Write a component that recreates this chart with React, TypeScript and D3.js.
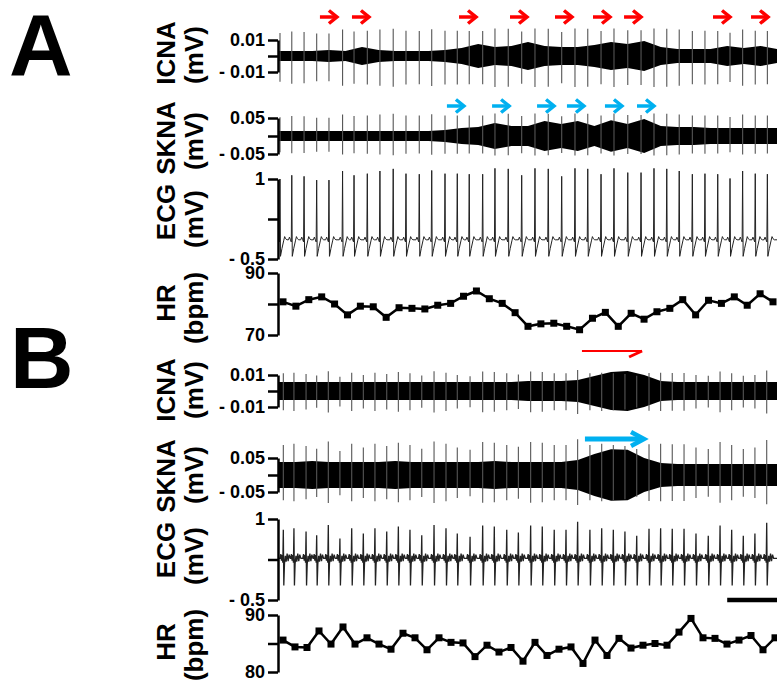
import React, { useEffect, useRef } from 'react'
import * as d3 from 'd3'

// every trace runs 30 s
const traceSpan = [0, 30]
const envTimes = [0, 1, 2, 3, 4, 5, 6, 7, 8, 9, 10, 11, 12, 13, 14, 15, 16, 17, 18, 19, 20, 21, 22, 23, 24, 25, 26, 27, 28, 29, 30]

// panel A
const beatsA = [0.06, 0.77, 1.51, 2.27, 3.01, 3.83, 4.52, 5.32, 6.08, 6.88, 7.65, 8.45, 9.2, 10.0, 10.74, 11.46, 12.27, 13.01, 13.81, 14.62, 15.42, 16.22, 17.03, 17.83, 18.6, 19.4, 20.18, 21.01, 21.81, 22.59, 23.36, 24.11, 24.9, 25.66, 26.43, 27.17, 27.93, 28.69, 29.42]
const rPeakA = [1.0, 1.07, 1.05, 0.98, 0.98, 1.15, 1.07, 1.1, 1.15, 1.19, 1.1, 1.09, 1.16, 1.1, 1.1, 1.09, 1.09, 1.2, 1.19, 1.07, 1.2, 1.19, 1.05, 1.2, 1.19, 1.09, 1.2, 1.12, 1.12, 1.2, 1.19, 1.15, 1.09, 1.1, 1.09, 1.01, 1.15, 1.1, 1.09]
const hrA = [80.7, 79.3, 81.4, 82.3, 80, 76.5, 79.3, 79.1, 75.7, 78.8, 78.6, 78.4, 79.6, 80.2, 82.5, 84.2, 81.7, 80.2, 77.2, 72.8, 73.6, 73.8, 72.8, 71.7, 75.4, 77.3, 72.8, 77, 75.1, 77.5, 78.6, 81.4, 76.5, 81.2, 80.2, 82.3, 79.6, 83.3, 80.7]
const icnaEnvA = [0.0031, 0.0031, 0.0031, 0.0038, 0.0031, 0.0056, 0.0038, 0.0031, 0.0031, 0.0031, 0.0038, 0.005, 0.0075, 0.0056, 0.0063, 0.0088, 0.0063, 0.0056, 0.0056, 0.0069, 0.0088, 0.0075, 0.0094, 0.0056, 0.0044, 0.0044, 0.0044, 0.0063, 0.005, 0.0063, 0.0044]
const sknaEnvA = [0.014, 0.014, 0.014, 0.014, 0.014, 0.014, 0.014, 0.014, 0.014, 0.014, 0.017, 0.022, 0.025, 0.036, 0.028, 0.028, 0.042, 0.033, 0.042, 0.028, 0.044, 0.033, 0.047, 0.028, 0.025, 0.025, 0.022, 0.022, 0.022, 0.022, 0.022]
const redArrowsA = [3.55, 5.48, 11.93, 15.0, 17.71, 20.0, 21.87, 27.23, 29.52]
const blueArrowsA = [11.2, 13.92, 16.63, 18.43, 20.72, 22.65]

// panel B
const beatsB = [0.26, 0.9, 1.63, 2.27, 2.97, 3.67, 4.38, 5.08, 5.78, 6.49, 7.19, 7.89, 8.6, 9.34, 10.06, 10.74, 11.51, 12.27, 12.97, 13.72, 14.42, 15.16, 15.86, 16.58, 17.29, 17.99, 18.73, 19.44, 20.14, 20.84, 21.55, 22.29, 22.99, 23.69, 24.4, 25.12, 25.86, 26.57, 27.27, 27.97, 28.67, 29.38]
const rPeakB = [0.8, 0.83, 0.77, 0.7, 0.89, 0.64, 0.83, 0.73, 0.83, 0.77, 0.86, 0.8, 0.7, 0.89, 0.83, 0.73, 0.67, 0.88, 0.86, 0.8, 0.75, 0.88, 0.86, 0.8, 0.8, 0.95, 0.8, 0.83, 0.8, 0.77, 0.69, 0.82, 0.83, 0.82, 0.82, 0.73, 0.69, 0.88, 0.8, 0.69, 0.73, 0.93]
const hrB = [85.6, 84.4, 84.3, 87.2, 84.9, 87.9, 84.9, 86, 84.9, 84, 86.8, 86, 83.9, 86, 85.2, 85.1, 82.7, 84.7, 83.5, 84.3, 81.9, 85.2, 82.9, 84, 84.4, 81.5, 85.6, 82.9, 85.9, 84.2, 84.7, 85, 84.7, 87, 89.4, 86, 85.9, 84.9, 85.6, 86.4, 83.9, 86]
const icnaEnvB = [0.0056, 0.0056, 0.0056, 0.0056, 0.0056, 0.0056, 0.0056, 0.0056, 0.0056, 0.0056, 0.0056, 0.0056, 0.0056, 0.0056, 0.0056, 0.0063, 0.0063, 0.0063, 0.0069, 0.0094, 0.0119, 0.0125, 0.01, 0.0063, 0.0056, 0.0056, 0.0056, 0.0056, 0.0056, 0.0056, 0.0056]
const sknaEnvB = [0.038, 0.038, 0.041, 0.038, 0.038, 0.038, 0.038, 0.041, 0.038, 0.038, 0.038, 0.038, 0.038, 0.041, 0.038, 0.038, 0.038, 0.038, 0.044, 0.062, 0.076, 0.074, 0.05, 0.035, 0.032, 0.032, 0.032, 0.032, 0.032, 0.032, 0.032]
const redArrowB = [18.25, 21.87]
const blueArrowB = [18.43, 22.05]
const scaleBar = [27, 30]

// one beat of the ECG: [seconds from R, mV from baseline]; R itself comes from rPeak
const beatShapeA = [[-0.2, 0], [-0.14, 0.05], [-0.08, 0], [-0.03, -0.04], [0, null], [0.03, -0.31], [0.12, -0.16], [0.22, -0.02], [0.28, 0.06], [0.34, 0.02], [0.42, 0]]
const beatShapeB = [[-0.2, 0], [-0.15, 0.08], [-0.11, -0.04], [-0.07, 0.06], [-0.03, -0.08], [0, null], [0.03, -0.5], [0.07, -0.1], [0.12, 0.05], [0.17, -0.06], [0.23, 0.09], [0.29, -0.05], [0.35, 0.07], [0.42, 0]]
const baselineA = -0.14
const baselineB = 0.27

const FONT = 'Liberation Sans, Arial, sans-serif'
const AX = 278

const App = () => {
  const svgRef = useRef(null)

  useEffect(() => {
    if (!svgRef.current) return
    const svg = d3.select(svgRef.current)
    svg.selectAll('*').remove()

    const x = d3.scaleLinear().domain(traceSpan).range([279, 777])

    const drawAxis = (y, ticks, labels) => {
      const axis = d3
        .axisLeft(y)
        .tickValues(ticks)
        .tickSize(10)
        .tickSizeOuter(0)
        .tickPadding(3)
        .tickFormat((d, i) => labels[i])
      svg
        .append('g')
        .attr('transform', `translate(${AX},0)`)
        .call(axis)
        .call((g) => g.selectAll('path, line').attr('stroke', '#000').attr('stroke-width', 2.5))
        .call((g) =>
          g
            .selectAll('text')
            .attr('fill', '#000')
            .attr('font-size', 18)
            .attr('font-weight', 'bold')
            .attr('font-family', FONT)
        )
    }

    const title = (text, bx, cy) => {
      svg
        .append('text')
        .attr('transform', `translate(${bx},${cy}) rotate(-90)`)
        .attr('text-anchor', 'middle')
        .attr('font-family', FONT)
        .attr('font-weight', 'bold')
        .attr('font-size', 26)
        .text(text)
    }

    const drawNerve = (y, env, beats, rPeaks, up, down) => {
      const area = d3
        .area()
        .x((d, i) => x(envTimes[i]))
        .y0((d) => y(-d))
        .y1((d) => y(d))
      svg.append('path').datum(env).attr('d', area).attr('fill', '#000')
      const meanR = d3.mean(rPeaks)
      svg
        .append('g')
        .selectAll('line')
        .data(beats)
        .join('line')
        .attr('x1', (d) => x(d))
        .attr('x2', (d) => x(d))
        .attr('y1', (d, i) => y((up * rPeaks[i]) / meanR))
        .attr('y2', (d, i) => y((-down * rPeaks[i]) / meanR))
        .attr('stroke', '#555')
        .attr('stroke-width', 1.1)
    }

    const drawEcg = (y, beats, rPeaks, baseline, shape, width) => {
      const pts = [[traceSpan[0], baseline]]
      beats.forEach((b, i) => {
        shape.forEach(([dt, dv]) => {
          pts.push([b + dt, dv === null ? rPeaks[i] : baseline + dv])
        })
      })
      pts.push([traceSpan[1], baseline])
      const clean = pts
        .filter((p) => p[0] >= traceSpan[0] && p[0] <= traceSpan[1])
        .sort((a, b) => a[0] - b[0])
      const line = d3
        .line()
        .x((d) => x(d[0]))
        .y((d) => y(d[1]))
      svg
        .append('path')
        .datum(clean)
        .attr('d', line)
        .attr('fill', 'none')
        .attr('stroke', '#222')
        .attr('stroke-width', width)
    }

    const drawHr = (y, hr, range) => {
      const xi = d3.scalePoint().domain(d3.range(hr.length)).range(range)
      const line = d3
        .line()
        .x((d, i) => xi(i))
        .y((d) => y(d))
      svg
        .append('path')
        .datum(hr)
        .attr('d', line)
        .attr('fill', 'none')
        .attr('stroke', '#000')
        .attr('stroke-width', 2.5)
      svg
        .append('g')
        .selectAll('rect')
        .data(hr)
        .join('rect')
        .attr('x', (d, i) => xi(i) - 3.5)
        .attr('y', (d) => y(d) - 3.5)
        .attr('width', 7)
        .attr('height', 7)
        .attr('fill', '#000')
    }

    const smallArrows = (tips, yy, color) => {
      tips.forEach((t) => {
        const tx = x(t)
        svg
          .append('line')
          .attr('x1', tx - 18)
          .attr('x2', tx - 3)
          .attr('y1', yy)
          .attr('y2', yy)
          .attr('stroke', color)
          .attr('stroke-width', 3.5)
        svg
          .append('polyline')
          .attr('points', `${tx - 9},${yy - 6.5} ${tx - 1},${yy} ${tx - 9},${yy + 6.5}`)
          .attr('fill', 'none')
          .attr('stroke', color)
          .attr('stroke-width', 3.5)
      })
    }

    // panel letters
    svg.append('text').attr('x', 9).attr('y', 75).attr('font-family', FONT).attr('font-weight', 'bold').attr('font-size', 88).text('A')
    svg.append('text').attr('x', 10).attr('y', 388).attr('font-family', FONT).attr('font-weight', 'bold').attr('font-size', 88).text('B')

    // ---- A ----
    const yIcnaA = d3.scaleLinear().domain([-0.01, 0.01]).range([72, 40])
    const ySknaA = d3.scaleLinear().domain([-0.05, 0.05]).range([154, 118])
    const yEcgA = d3.scaleLinear().domain([-0.5, 1]).range([259, 179])
    const yHrA = d3.scaleLinear().domain([70, 90]).range([335, 273])

    drawNerve(yIcnaA, icnaEnvA, beatsA, rPeakA, 0.016, 0.018)
    drawNerve(ySknaA, sknaEnvA, beatsA, rPeakA, 0.058, 0.05)
    drawEcg(yEcgA, beatsA, rPeakA, baselineA, beatShapeA, 1)
    drawHr(yHrA, hrA, [283, 773])

    drawAxis(yIcnaA, [0.01, 0, -0.01], ['0.01', '', '- 0.01'])
    drawAxis(ySknaA, [0.05, 0, -0.05], ['0.05', '', '- 0.05'])
    drawAxis(yEcgA, [1, 0.25, -0.5], ['1', '', '- 0.5'])
    drawAxis(yHrA, [90, 80, 70], ['90', '', '70'])

    title('ICNA', 175, 53)
    title('(mV)', 203, 55)
    title('SKNA', 175, 138)
    title('(mV)', 203, 141)
    title('ECG', 175, 212)
    title('(mV)', 203, 219)
    title('HR', 175, 303)
    title('(bpm)', 203, 308)

    smallArrows(redArrowsA, 17, '#ff0000')
    smallArrows(blueArrowsA, 106, '#00b0f0')

    // ---- B ----
    const yIcnaB = d3.scaleLinear().domain([-0.01, 0.01]).range([407, 375])
    const ySknaB = d3.scaleLinear().domain([-0.05, 0.05]).range([492, 458])
    const yEcgB = d3.scaleLinear().domain([-0.5, 1]).range([600, 519])
    const yHrB = d3.scaleLinear().domain([80, 90]).range([672, 615])

    drawNerve(yIcnaB, icnaEnvB, beatsB, rPeakB, 0.011, 0.012)
    drawNerve(ySknaB, sknaEnvB, beatsB, rPeakB, 0.088, 0.074)
    drawEcg(yEcgB, beatsB, rPeakB, baselineB, beatShapeB, 1.3)
    drawHr(yHrB, hrB, [283, 775])

    drawAxis(yIcnaB, [0.01, 0, -0.01], ['0.01', '', '- 0.01'])
    drawAxis(ySknaB, [0.05, 0, -0.05], ['0.05', '', '- 0.05'])
    drawAxis(yEcgB, [1, 0.25, -0.5], ['1', '', '- 0.5'])
    drawAxis(yHrB, [90, 85, 80], ['90', '', '80'])

    title('ICNA', 175, 390)
    title('(mV)', 203, 390)
    title('SKNA', 175, 476)
    title('(mV)', 203, 475)
    title('ECG', 175, 550)
    title('(mV)', 203, 556)
    title('HR', 175, 642)
    title('(bpm)', 203, 645)

    // long arrows in B
    const rx0 = x(redArrowB[0])
    const rx1 = x(redArrowB[1])
    svg.append('line').attr('x1', rx0).attr('x2', rx1).attr('y1', 351).attr('y2', 351).attr('stroke', '#ff0000').attr('stroke-width', 2)
    svg.append('line').attr('x1', rx1).attr('x2', rx1 - 13).attr('y1', 351).attr('y2', 357).attr('stroke', '#ff0000').attr('stroke-width', 3)

    const bx0 = x(blueArrowB[0])
    const bx1 = x(blueArrowB[1])
    svg.append('line').attr('x1', bx0).attr('x2', bx1 - 3).attr('y1', 439).attr('y2', 439).attr('stroke', '#00b0f0').attr('stroke-width', 5)
    svg
      .append('polyline')
      .attr('points', `${bx1 - 14},${432} ${bx1 - 1},${439} ${bx1 - 14},${446}`)
      .attr('fill', 'none')
      .attr('stroke', '#00b0f0')
      .attr('stroke-width', 4.5)

    // time scale bar
    svg
      .append('line')
      .attr('x1', x(scaleBar[0]))
      .attr('x2', x(scaleBar[1]))
      .attr('y1', 600)
      .attr('y2', 600)
      .attr('stroke', '#000')
      .attr('stroke-width', 4.5)
  }, [])

  return (
    <svg
      ref={svgRef}
      width={777}
      height={681}
      style={{ position: 'absolute', left: 0, top: 0, background: '#fff' }}
    ></svg>
  )
}

export default App
